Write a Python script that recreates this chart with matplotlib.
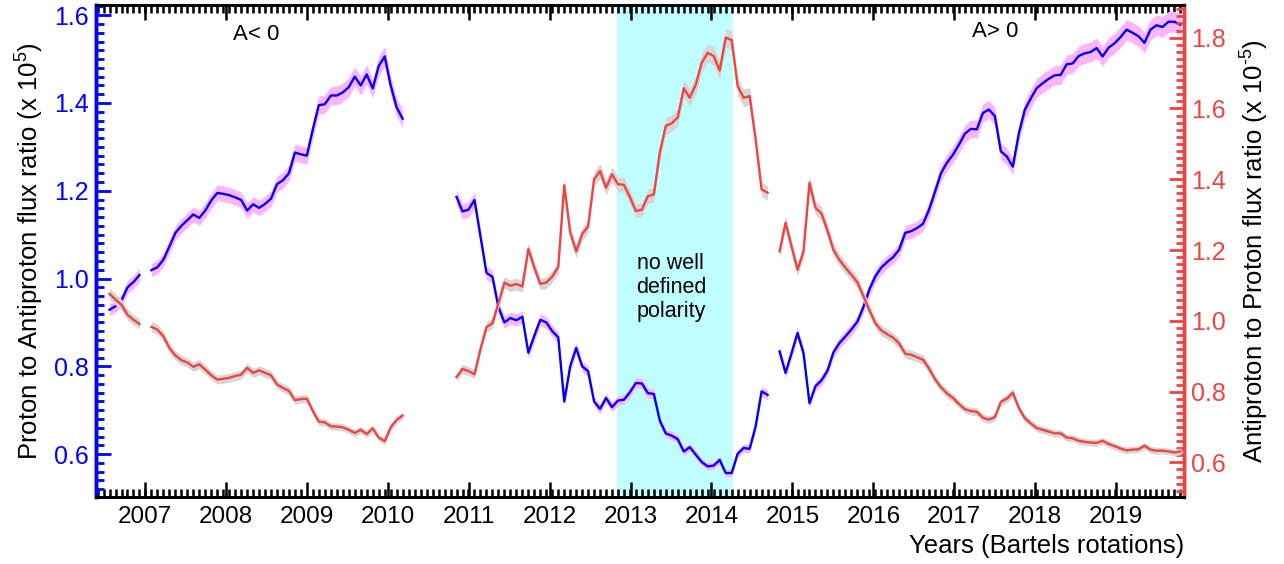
import numpy as np
import pandas as pd
import matplotlib

matplotlib.use("Agg")
import matplotlib.pyplot as plt
from matplotlib.ticker import MultipleLocator, FormatStrFormatter

plt.rcParams["font.family"] = ["Liberation Sans", "DejaVu Sans"]
plt.rcParams["mathtext.fontset"] = "custom"
plt.rcParams["mathtext.rm"] = "Liberation Sans"
plt.rcParams["mathtext.default"] = "rm"

# Bartels rotation number of the first point of each data block
first_rotation = [2361, 2368, 2419, 2473]

# Proton / antiproton flux ratio (x 1e5), one value per Bartels rotation
p_pbar = [
    [0.929, 0.937, 0.950, 0.980, 0.992, 1.008],
    [1.019, 1.026, 1.043, 1.073, 1.104, 1.120, 1.133, 1.146, 1.138, 1.155,
     1.178, 1.195, 1.193, 1.190, 1.185, 1.179, 1.155, 1.169, 1.161, 1.170,
     1.182, 1.215, 1.224, 1.240, 1.287, 1.283, 1.280, 1.340, 1.395, 1.397,
     1.417, 1.417, 1.424, 1.436, 1.460, 1.440, 1.465, 1.433, 1.484, 1.506,
     1.440, 1.390, 1.364],
    [1.186, 1.153, 1.157, 1.179, 1.096, 1.013, 1.004, 0.935, 0.900, 0.910,
     0.905, 0.913, 0.831, 0.870, 0.906, 0.900, 0.880, 0.866, 0.720, 0.800,
     0.842, 0.800, 0.789, 0.720, 0.703, 0.728, 0.707, 0.722, 0.724, 0.741,
     0.762, 0.761, 0.739, 0.737, 0.676, 0.647, 0.642, 0.634, 0.606, 0.616,
     0.599, 0.582, 0.572, 0.574, 0.587, 0.557, 0.557, 0.601, 0.614, 0.612,
     0.663, 0.743, 0.735],
    [0.834, 0.785, 0.830, 0.876, 0.830, 0.716, 0.755, 0.768, 0.790, 0.832,
     0.853, 0.868, 0.884, 0.902, 0.935, 0.975, 1.005, 1.025, 1.038, 1.049,
     1.066, 1.104, 1.108, 1.115, 1.125, 1.157, 1.198, 1.240, 1.264, 1.282,
     1.305, 1.330, 1.341, 1.340, 1.377, 1.385, 1.370, 1.290, 1.278, 1.255,
     1.330, 1.384, 1.410, 1.434, 1.445, 1.455, 1.463, 1.464, 1.488, 1.490,
     1.507, 1.513, 1.516, 1.525, 1.506, 1.526, 1.536, 1.550, 1.567, 1.560,
     1.552, 1.537, 1.567, 1.577, 1.573, 1.585, 1.585, 1.578],
]

# Antiproton / proton flux ratio (x 1e-5)
pbar_p = [
    [1.076, 1.060, 1.045, 1.017, 1.003, 0.991],
    [0.983, 0.975, 0.956, 0.923, 0.902, 0.889, 0.882, 0.870, 0.877, 0.862,
     0.846, 0.834, 0.836, 0.839, 0.844, 0.848, 0.867, 0.853, 0.860, 0.853,
     0.846, 0.820, 0.810, 0.802, 0.776, 0.779, 0.780, 0.745, 0.715, 0.713,
     0.702, 0.701, 0.699, 0.692, 0.683, 0.692, 0.680, 0.696, 0.670, 0.660,
     0.699, 0.720, 0.732],
    [0.841, 0.864, 0.858, 0.849, 0.920, 0.982, 0.993, 1.050, 1.108, 1.099,
     1.104, 1.097, 1.203, 1.150, 1.104, 1.108, 1.125, 1.152, 1.383, 1.250,
     1.196, 1.245, 1.267, 1.400, 1.423, 1.376, 1.414, 1.386, 1.384, 1.350,
     1.310, 1.314, 1.352, 1.357, 1.476, 1.551, 1.558, 1.575, 1.657, 1.630,
     1.667, 1.729, 1.757, 1.748, 1.707, 1.800, 1.793, 1.663, 1.630, 1.635,
     1.513, 1.371, 1.362],
    [1.196, 1.277, 1.210, 1.144, 1.196, 1.390, 1.319, 1.303, 1.255, 1.200,
     1.172, 1.150, 1.130, 1.109, 1.070, 1.030, 0.993, 0.973, 0.962, 0.952,
     0.936, 0.907, 0.904, 0.897, 0.890, 0.865, 0.835, 0.812, 0.795, 0.782,
     0.765, 0.750, 0.745, 0.743, 0.726, 0.721, 0.728, 0.771, 0.780, 0.797,
     0.754, 0.725, 0.710, 0.697, 0.692, 0.687, 0.682, 0.682, 0.670, 0.668,
     0.661, 0.658, 0.656, 0.655, 0.661, 0.652, 0.646, 0.639, 0.634, 0.636,
     0.637, 0.647, 0.636, 0.633, 0.633, 0.631, 0.628, 0.631],
]

rel_err = 0.015  # relative uncertainty of both ratios

year_ticks = list(range(2007, 2020))
no_polarity = (2012.836, 2014.268)

BLUE = "#0000ff"
RED = "#f04444"
BAND_BLUE = "#ffb4ff"
BAND_RED = "#d6d6d6"
CYAN = "#bfffff"


def bartels_to_year(br):
    start = pd.Timestamp("1832-02-08") + pd.to_timedelta(
        (np.asarray(br) - 1) * 27, unit="D"
    )
    idx = pd.DatetimeIndex(start)
    days = np.where(idx.is_leap_year, 366, 365)
    return np.asarray(idx.year + (idx.dayofyear - 1) / days)


fig = plt.figure(figsize=(12.84, 5.64), dpi=100)
ax = fig.add_axes([0.0748, 0.1193, 0.8474, 0.8717])
ax2 = ax.twinx()

ax.axvspan(*no_polarity, color=CYAN, lw=0, zorder=0)

for br0, yb, yr in zip(first_rotation, p_pbar, pbar_p):
    x = bartels_to_year(np.arange(br0, br0 + len(yb)))
    yb = np.array(yb)
    yr = np.array(yr)
    ax.fill_between(x, yb * (1 - rel_err), yb * (1 + rel_err), color=BAND_BLUE, lw=0, zorder=2)
    ax.plot(x, yb, color=BLUE, lw=1.7, zorder=3)
    ax2.fill_between(x, yr * (1 - rel_err), yr * (1 + rel_err), color=BAND_RED, lw=0, zorder=2)
    ax2.plot(x, yr, color=RED, lw=1.7, zorder=3)

# ticks: years as major, one minor tick per Bartels rotation
ax.set_xticks(year_ticks)
ax.set_xticklabels([str(y) for y in year_ticks])
ax.set_xticks(bartels_to_year(np.arange(2355, 2545)), minor=True)
ax.set_xlim(2006.395, 2019.84)
ax.set_ylim(0.503, 1.623)
ax2.set_ylim(0.503, 1.892)

for a in (ax, ax2):
    a.yaxis.set_major_locator(MultipleLocator(0.2))
    a.yaxis.set_minor_locator(MultipleLocator(0.02))
    a.yaxis.set_major_formatter(FormatStrFormatter("%.1f"))

ax.tick_params(axis="x", which="both", direction="in", top=True, bottom=True,
               labelsize=17.5, pad=7, colors="black")
ax.tick_params(axis="x", which="major", length=11, width=1.8)
ax.tick_params(axis="x", which="minor", length=5.5, width=1.8)
ax.tick_params(axis="y", which="both", direction="in", left=True, right=False,
               labelsize=18, pad=5, colors=BLUE)
ax.tick_params(axis="y", which="major", length=11, width=2)
ax.tick_params(axis="y", which="minor", length=6, width=2)
ax2.tick_params(axis="y", which="both", direction="in", left=False, right=True,
                labelsize=18, pad=5, colors=RED)
ax2.tick_params(axis="y", which="major", length=11, width=2)
ax2.tick_params(axis="y", which="minor", length=6, width=2)

for a in (ax, ax2):
    for side in ("top", "bottom"):
        a.spines[side].set_color("black")
        a.spines[side].set_linewidth(2)
    a.spines["left"].set_color(BLUE)
    a.spines["left"].set_linewidth(2.5)
    a.spines["right"].set_color(RED)
    a.spines["right"].set_linewidth(2.5)

ax.set_xlabel("Years (Bartels rotations)", fontsize=18.5, loc="right", labelpad=4)
ax.set_ylabel("Proton to Antiproton flux ratio (x 10$^{5}$)", fontsize=18.5, labelpad=6)
ax2.set_ylabel(r"Antiproton to Proton flux ratio (x 10$^{\text{-}5}$)", fontsize=18.5, labelpad=9)

ax.text(2008.38, 1.555, "A< 0", ha="center", va="center", fontsize=16)
ax.text(2017.506, 1.562, "A> 0", ha="center", va="center", fontsize=16)
ax.text(2013.074, 0.98, "no well\ndefined\npolarity", ha="left", va="center",
        fontsize=15.5, zorder=4)

fig.savefig("out.png", dpi=100)
